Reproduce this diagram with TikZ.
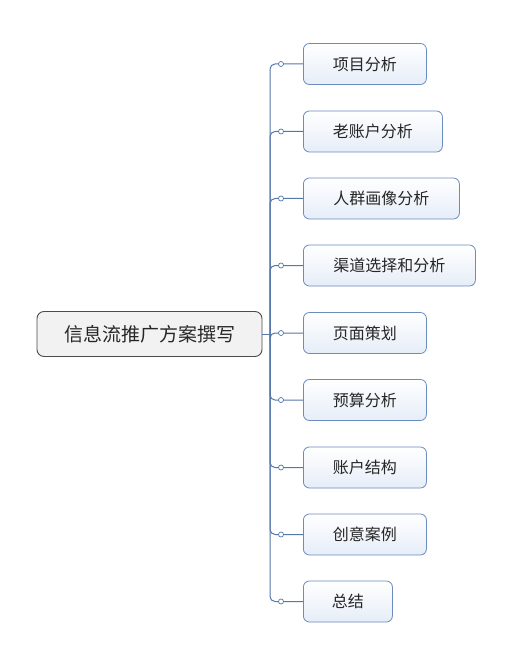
\documentclass[tikz,border=0pt]{standalone}
\usepackage{fontspec}
\setmainfont{Noto Sans CJK SC}
\begin{document}
\begin{tikzpicture}[x=1pt,y=-1pt,
  childbox/.style={draw=boxblue, line width=0.8pt, rounded corners=6pt, top color=white, bottom color=boxfill, anchor=west, minimum height=41pt, inner sep=0pt, font=\fontsize{16}{18}\selectfont, text=black!85},
  rootbox/.style={draw=black!70, line width=0.9pt, rounded corners=7pt, fill=black!5, minimum height=45pt, minimum width=225pt, inner sep=0pt, font=\fontsize{19}{22}\selectfont, text=black!85},
  conn/.style={draw=lineblue, line width=1pt, rounded corners=5pt},
  knob/.style={circle, draw=lineblue, fill=white, line width=0.7pt, minimum size=5pt, inner sep=0pt}
]
\definecolor{boxblue}{HTML}{6A8CBF}
\definecolor{boxfill}{HTML}{E6EDF8}
\definecolor{lineblue}{HTML}{5577AA}
\useasboundingbox (0,0) rectangle (522,668);
\fill[white] (0,0) rectangle (522,668);
\node[rootbox] (root) at (149.5,334) {信息流推广方案撰写};
\coordinate (hub) at (270,334);
\foreach \name/\txt/\w/\yy in {
  c1/项目分析/123/64,
  c2/老账户分析/139/131.5,
  c3/人群画像分析/156/198.5,
  c4/渠道选择和分析/172/265.5,
  c5/页面策划/123/333,
  c6/预算分析/123/400,
  c7/账户结构/123/467.5,
  c8/创意案例/123/534.5,
  c9/总结/89/601.5}{
  \node[childbox, minimum width=\w pt] (\name) at (303,\yy) {\txt};
  \draw[conn] (hub) |- (\name.west);
  \node[knob] (k\name) at (281,\yy) {};
}
\draw[conn] (root.east) -- (hub);
\end{tikzpicture}
\end{document}
